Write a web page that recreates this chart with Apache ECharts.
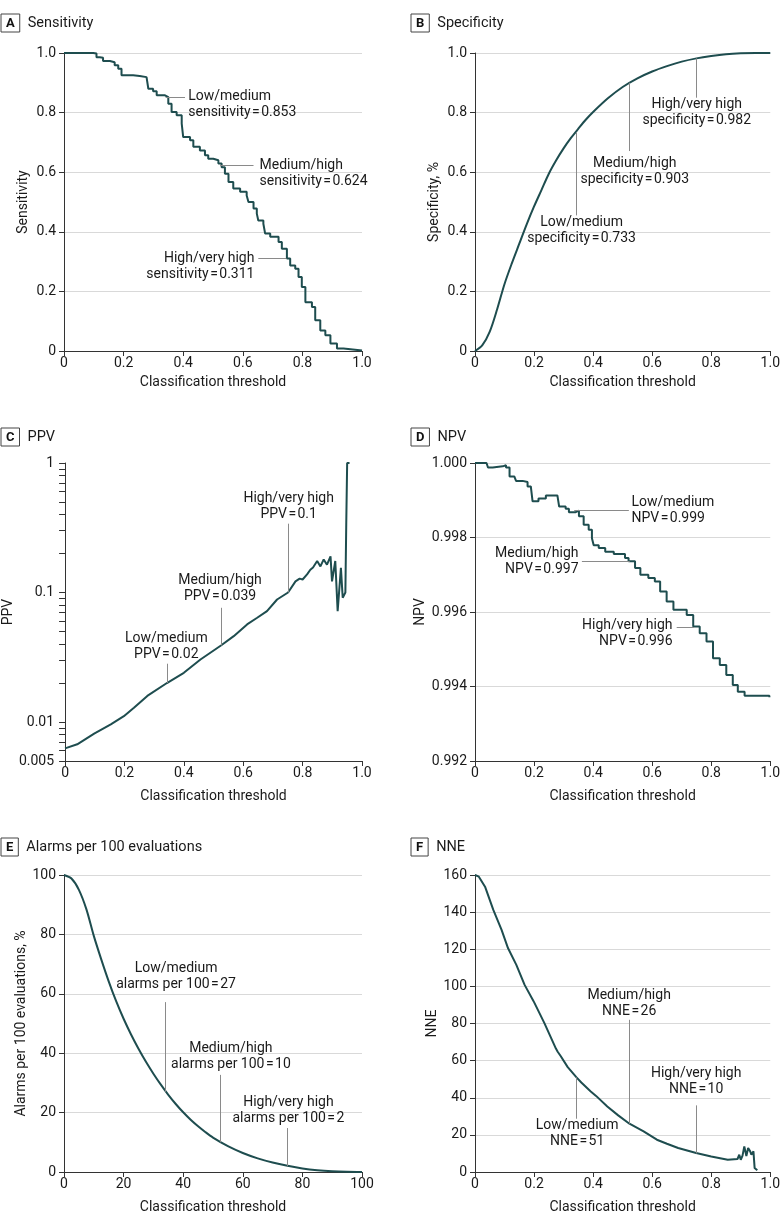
<!DOCTYPE html>
<html>
<head>
<meta charset="utf-8">
<script src="https://cdn.jsdelivr.net/npm/echarts@6/dist/echarts.min.js"></script>
<style>
  html, body { margin: 0; padding: 0; background: #fff; }
  #chart { width: 783px; height: 1227px; }
</style>
</head>
<body>
<div id="chart"></div>
<script>
// threshold / metric pairs
const sensitivity = [[0,1.0],[0.098,0.998],[0.109,0.986],[0.12,0.984],[0.131,0.973],[0.154,0.969],[0.17,0.959],[0.182,0.947],[0.193,0.925],[0.232,0.923],[0.254,0.919],[0.277,0.914],[0.283,0.88],[0.299,0.872],[0.311,0.858],[0.339,0.852],[0.35,0.83],[0.361,0.802],[0.378,0.791],[0.395,0.763],[0.4,0.718],[0.423,0.707],[0.434,0.685],[0.456,0.673],[0.473,0.657],[0.484,0.645],[0.501,0.64],[0.518,0.629],[0.529,0.617],[0.54,0.595],[0.552,0.567],[0.568,0.545],[0.591,0.534],[0.613,0.522],[0.619,0.5],[0.636,0.478],[0.647,0.461],[0.652,0.438],[0.669,0.427],[0.675,0.394],[0.692,0.383],[0.72,0.366],[0.731,0.343],[0.748,0.31],[0.759,0.287],[0.776,0.276],[0.787,0.248],[0.798,0.215],[0.81,0.164],[0.832,0.148],[0.843,0.103],[0.86,0.069],[0.877,0.053],[0.894,0.025],[0.916,0.008],[0.938,0.002],[1.0,0]];

const specificity = [[0,0],[0.025,0.02],[0.05,0.065],[0.075,0.14],[0.1,0.225],[0.125,0.295],[0.15,0.36],[0.175,0.425],[0.2,0.485],[0.225,0.54],[0.25,0.595],[0.275,0.64],[0.3,0.68],[0.325,0.715],[0.35,0.746],[0.375,0.776],[0.4,0.802],[0.45,0.848],[0.5,0.886],[0.55,0.915],[0.6,0.938],[0.65,0.956],[0.7,0.971],[0.75,0.982],[0.8,0.99],[0.85,0.996],[0.9,0.999],[0.95,1.0],[1.0,1.0]];

const ppv = [[0,0.00626],[0.041,0.00673],[0.098,0.00813],[0.154,0.0096],[0.198,0.0111],[0.232,0.0129],[0.277,0.0159],[0.343,0.02],[0.4,0.024],[0.456,0.0304],[0.525,0.039],[0.568,0.046],[0.613,0.0567],[0.647,0.0638],[0.68,0.0718],[0.714,0.0883],[0.751,0.1],[0.776,0.122],[0.79,0.128],[0.8,0.126],[0.815,0.138],[0.826,0.15],[0.835,0.156],[0.849,0.175],[0.86,0.159],[0.871,0.18],[0.882,0.164],[0.894,0.19],[0.899,0.122],[0.91,0.175],[0.918,0.0718],[0.929,0.155],[0.935,0.091],[0.944,0.1],[0.947,0.345],[0.95,1],[0.958,1]];

const npv = [[0,1.0],[0.039,1.0],[0.044,0.99988],[0.06,0.99991],[0.094,0.99994],[0.105,0.99988],[0.117,0.99964],[0.133,0.99968],[0.139,0.99952],[0.161,0.99949],[0.178,0.99937],[0.189,0.99933],[0.195,0.99897],[0.215,0.99905],[0.24,0.99913],[0.279,0.99917],[0.285,0.99883],[0.307,0.99877],[0.318,0.99868],[0.341,0.99872],[0.352,0.99857],[0.368,0.99834],[0.385,0.99821],[0.396,0.99798],[0.402,0.99779],[0.419,0.99772],[0.441,0.99762],[0.47,0.99756],[0.508,0.99745],[0.52,0.99736],[0.542,0.99718],[0.56,0.997],[0.587,0.99691],[0.609,0.99682],[0.627,0.99655],[0.649,0.99628],[0.672,0.99606],[0.717,0.99592],[0.739,0.99561],[0.761,0.99543],[0.784,0.99521],[0.806,0.99476],[0.829,0.99458],[0.851,0.99431],[0.873,0.99404],[0.89,0.99386],[0.913,0.99375],[0.997,0.99371]];

const alarms = [[0,100],[2.5,98.8],[5,95],[7.5,88.5],[10,79.5],[12.5,71.6],[15,64.2],[17.5,57.5],[20,51.6],[22.5,46.3],[25,41.5],[27.5,37.1],[30,33.1],[32.5,29.4],[35,26.0],[37.5,22.9],[40,20.1],[42.5,17.6],[45,15.4],[47.5,13.4],[50,11.6],[55,8.7],[60,6.4],[65,4.6],[70,3.2],[75,2.1],[80,1.2],[85,0.6],[90,0.25],[95,0.07],[100,0]];

const nne = [[0,160],[0.013,159.1],[0.034,153.7],[0.062,141.2],[0.09,130.4],[0.112,120.5],[0.14,111.6],[0.168,100.8],[0.196,92.7],[0.2,91.5],[0.235,80.2],[0.274,66.5],[0.28,64.8],[0.29,62.5],[0.314,56.5],[0.343,51.1],[0.36,48.2],[0.392,43.4],[0.41,41],[0.448,35.3],[0.485,30.5],[0.523,26],[0.571,21.9],[0.616,17.4],[0.65,15.2],[0.688,12.9],[0.749,10.2],[0.8,8.4],[0.856,6.6],[0.889,7.0],[0.895,9.3],[0.9,6.6],[0.906,8.8],[0.912,13.8],[0.919,8.6],[0.925,12.9],[0.932,11.1],[0.936,9.3],[0.943,11.1],[0.947,2.1],[0.956,0.9]];

// axis ticks
const ppvLabelTicks = [0.005, 0.01, 0.1, 1];
const ppvMinorTicks = [0.005,0.006,0.007,0.008,0.009,0.01,0.02,0.03,0.04,0.05,0.06,0.07,0.08,0.09,0.1,0.2,0.3,0.4,0.5,0.6,0.7,0.8,0.9,1];

// annotations: leader line ends and label anchor, in data units
const EQ = '\u200a=\u200a';
const sensNotes = [
  { text: 'Low/medium\nsensitivity' + EQ + '0.853', from: [0.341,0.853], to: [0.406,0.853], at: [0.417,0.826], align: 'left' },
  { text: 'Medium/high\nsensitivity' + EQ + '0.624', from: [0.524,0.624], to: [0.636,0.624], at: [0.656,0.597], align: 'left' },
  { text: 'High/very high\nsensitivity' + EQ + '0.311', from: [0.746,0.311], to: [0.652,0.311], at: [0.639,0.284], align: 'right' }
];
const specNotes = [
  { text: 'Low/medium\nspecificity' + EQ + '0.733', from: [0.3415,0.733], to: [0.3415,0.455], at: [0.361,0.404], align: 'center' },
  { text: 'Medium/high\nspecificity' + EQ + '0.903', from: [0.523,0.9], to: [0.523,0.671], at: [0.541,0.602], align: 'center' },
  { text: 'High/very high\nspecificity' + EQ + '0.982', from: [0.75,0.982], to: [0.75,0.85], at: [0.751,0.8], align: 'center' }
];
const ppvNotes = [
  { text: 'Low/medium\nPPV' + EQ + '0.02', from: [0.343,0.02], to: [0.343,0.0282], at: [0.341,0.0381], align: 'center' },
  { text: 'Medium/high\nPPV' + EQ + '0.039', from: [0.525,0.039], to: [0.525,0.0762], at: [0.522,0.1074], align: 'center' },
  { text: 'High/very high\nPPV' + EQ + '0.1', from: [0.751,0.1], to: [0.751,0.34], at: [0.753,0.4575], align: 'center' }
];
const npvNotes = [
  { text: 'Low/medium\nNPV' + EQ + '0.999', from: [0.336,0.99872], to: [0.521,0.99872], at: [0.53,0.99873], align: 'left' },
  { text: 'Medium/high\nNPV' + EQ + '0.997', from: [0.524,0.99736], to: [0.362,0.99736], at: [0.3505,0.99735], align: 'right' },
  { text: 'High/very high\nNPV' + EQ + '0.996', from: [0.741,0.99558], to: [0.683,0.99558], at: [0.669,0.99543], align: 'right' }
];
const alarmNotes = [
  { text: 'Low/medium\nalarms per 100' + EQ + '27', from: [34.1,27], to: [34.1,57.2], at: [37.6,65.95], align: 'center' },
  { text: 'Medium/high\nalarms per 100' + EQ + '10', from: [52.4,10], to: [52.4,32.7], at: [56.0,39.05], align: 'center' },
  { text: 'High/very high\nalarms per 100' + EQ + '2', from: [75,2], to: [75,14.8], at: [75.3,20.55], align: 'center' }
];
const nneNotes = [
  { text: 'Low/medium\nNNE' + EQ + '51', from: [0.343,51], to: [0.343,28.7], at: [0.346,20.5], align: 'center' },
  { text: 'Medium/high\nNNE' + EQ + '26', from: [0.523,26], to: [0.523,82], at: [0.522,90.8], align: 'center' },
  { text: 'High/very high\nNNE' + EQ + '10', from: [0.75,10], to: [0.75,35.9], at: [0.749,48.6], align: 'center' }
];

const FONT = 'Roboto, "Liberation Sans", sans-serif';
const LINE = '#1e4d4f';
const AXIS = '#333';
const GRIDLINE = '#d9d9d9';
const TXT = '#1a1a1a';

const fmtFrac = v => (v === 0 ? '0' : v.toFixed(1));

function makeTitle(letter, text, left, top) {
  return {
    left: left, top: top, padding: 0,
    text: '{box|' + letter + '}{t|' + text + '}',
    textStyle: {
      fontWeight: 'normal',
      rich: {
        box: { fontFamily: FONT, fontSize: 13, fontWeight: 'bold', color: '#111', borderColor: '#444', borderWidth: 1, padding: [3, 5, 2, 5] },
        t: { fontFamily: FONT, fontSize: 14.5, fontWeight: 'normal', color: TXT, padding: [0, 0, 0, 8] }
      }
    }
  };
}

function xAx(idx, max, interval, fmt, gap) {
  return {
    gridIndex: idx, type: 'value', min: 0, max: max, interval: interval,
    name: 'Classification threshold', nameLocation: 'middle', nameGap: gap,
    nameTextStyle: { fontFamily: FONT, fontSize: 14, color: TXT },
    axisLine: { show: true, lineStyle: { color: AXIS, width: 1 } },
    axisTick: { show: true, length: 5, lineStyle: { color: AXIS } },
    axisLabel: { margin: 5, fontFamily: FONT, fontSize: 14, color: TXT, formatter: fmt },
    splitLine: { show: false }
  };
}

function yLabel(fmt, margin) {
  return { margin: margin || 8, fontFamily: FONT, fontSize: 14, color: TXT, formatter: fmt };
}

function yAx(idx, name, gap, extra) {
  return Object.assign({
    gridIndex: idx, type: 'value',
    name: name, nameLocation: 'middle', nameGap: gap,
    nameTextStyle: { fontFamily: FONT, fontSize: 14, color: TXT },
    axisLine: { show: true, lineStyle: { color: AXIS, width: 1 } },
    axisTick: { show: true, length: 5, lineStyle: { color: AXIS } },
    axisLabel: yLabel(null),
    splitLine: { show: true, lineStyle: { color: GRIDLINE, width: 1 } }
  }, extra);
}

function panelSeries(idx, data, notes, opts) {
  return Object.assign({
    type: 'line', xAxisIndex: idx, yAxisIndex: idx, data: data,
    showSymbol: false, smooth: false,
    lineStyle: { color: LINE, width: 2 },
    markLine: {
      silent: true, symbol: ['none', 'none'], animation: false,
      lineStyle: { color: '#8a8a8a', width: 1, type: 'solid' },
      label: { show: false },
      data: notes.map(n => [{ coord: n.from }, { coord: n.to }])
    },
    markPoint: {
      silent: true, symbol: 'circle', symbolSize: 0, animation: false,
      label: {
        show: true, position: 'inside', fontFamily: FONT, fontSize: 14,
        lineHeight: 16, color: TXT, formatter: p => p.name
      },
      data: notes.map(n => ({ name: n.text, coord: n.at, label: { align: n.align, verticalAlign: 'middle' } }))
    }
  }, opts);
}

const chart = echarts.init(document.getElementById('chart'), null, { renderer: 'canvas' });

chart.setOption({
  animation: false,
  backgroundColor: '#fff',
  title: [
    makeTitle('A', 'Sensitivity', 1, 14),
    makeTitle('B', 'Specificity', 411, 14),
    makeTitle('C', 'PPV', 1, 428),
    makeTitle('D', 'NPV', 411, 428),
    makeTitle('E', 'Alarms per 100 evaluations', 1, 838),
    makeTitle('F', 'NNE', 411, 838)
  ],
  grid: [
    { left: 64, top: 53, width: 298, height: 298 },
    { left: 475, top: 53, width: 298, height: 298 },
    { left: 64, top: 463, width: 298, height: 298 },
    { left: 475, top: 463, width: 298, height: 298 },
    { left: 64, top: 875, width: 298, height: 297 },
    { left: 475, top: 875, width: 298, height: 297 }
  ],
  xAxis: [
    xAx(0, 1, 0.2, fmtFrac, 24),
    xAx(1, 1, 0.2, fmtFrac, 24),
    xAx(2, 1, 0.2, fmtFrac, 28),
    xAx(3, 1, 0.2, fmtFrac, 28),
    xAx(4, 100, 20, null, 28),
    xAx(5, 1, 0.2, fmtFrac, 28)
  ],
  yAxis: [
    yAx(0, 'Sensitivity', 34, { min: 0, max: 1, interval: 0.2, axisLabel: yLabel(fmtFrac) }),
    yAx(1, 'Specificity, %', 34, { min: 0, max: 1, interval: 0.2, axisLabel: yLabel(fmtFrac) }),
    yAx(2, 'PPV', 47, {
      type: 'log', logBase: 10, min: 0.005, max: 1,
      axisTick: { show: true, length: 6, lineStyle: { color: AXIS }, customValues: ppvMinorTicks },
      axisLabel: Object.assign(yLabel(v => String(v), 11), { customValues: ppvLabelTicks }),
      splitLine: { show: false }
    }),
    yAx(3, 'NPV', 47, { min: 0.992, max: 1, interval: 0.002, axisLabel: yLabel(v => v.toFixed(3)) }),
    yAx(4, 'Alarms per 100 evaluations, %', 34, { min: 0, max: 100, interval: 20 }),
    yAx(5, 'NNE', 35, { min: 0, max: 160, interval: 20 })
  ],
  series: [
    panelSeries(0, sensitivity, sensNotes, { step: 'end' }),
    panelSeries(1, specificity, specNotes, { smooth: 0.3 }),
    panelSeries(2, ppv, ppvNotes),
    panelSeries(3, npv, npvNotes, { step: 'end' }),
    panelSeries(4, alarms, alarmNotes, { smooth: 0.3 }),
    panelSeries(5, nne, nneNotes)
  ]
});
</script>
</body>
</html>
